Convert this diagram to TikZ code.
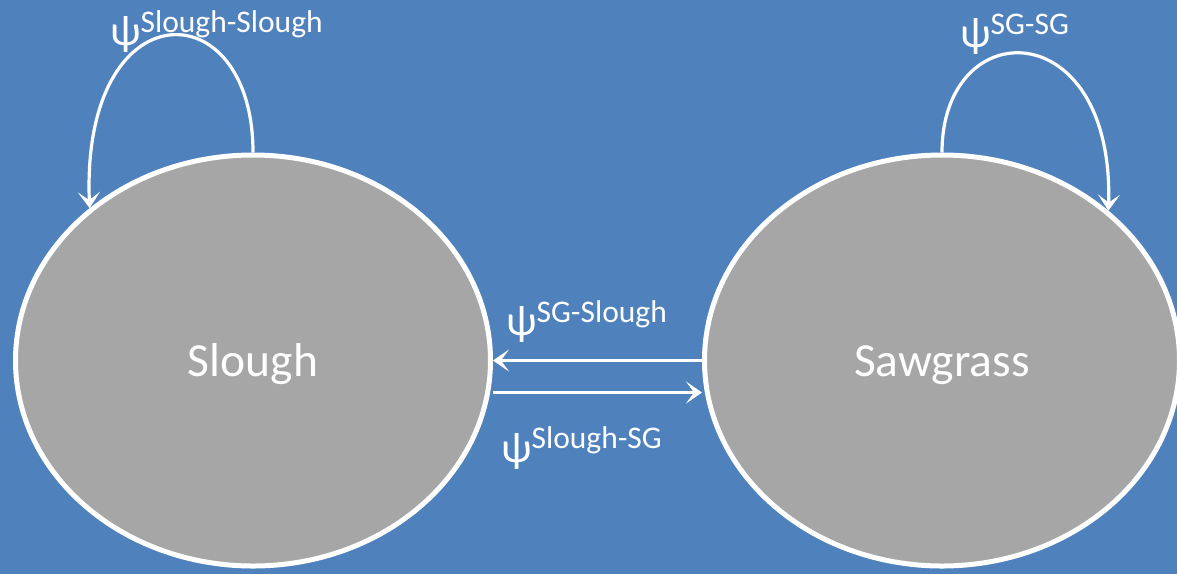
\documentclass[tikz,border=0pt]{standalone}
\usepackage{fontspec}
\setmainfont{Carlito}
\usetikzlibrary{arrows.meta,shapes.geometric}
\definecolor{bgblue}{RGB}{79,129,189}
\definecolor{stategray}{RGB}{166,166,166}
\begin{document}
\begin{tikzpicture}[x=1pt,y=-1pt,
  state/.style={shape=ellipse, draw=white, line width=5pt, fill=stategray,
    minimum width=475pt, minimum height=411pt, inner sep=0pt, text=white,
    font=\fontsize{47.5}{57}\selectfont, text height=31pt, text depth=0pt},
  flow/.style={draw=white, line width=3.2pt,
    -{Stealth[length=16pt,width=22pt,inset=8pt]}},
  lbl/.style={anchor=base west, inner sep=0pt, text=white,
    font=\fontsize{43}{50}\selectfont}]
\useasboundingbox (0,0) rectangle (1177,574);
\fill[bgblue] (0,0) rectangle (1177,574);
\node[state] (L) at (253,360.5) {Slough};
\node[state] (R) at (942,360.5) {Sawgrass};
\draw[flow] (L.north) .. controls (253,-12) and (81,-12) .. (L.137.6);
\draw[flow] (R.north) .. controls (942,12) and (1114,12) .. (R.42.4);
\draw[flow] (R.west) -- (L.east);
\draw[flow] ([yshift=-32pt]L.east) -- ([yshift=-32pt]L.east -| R.west);
\node[lbl] (lss) at (110,45) {ψ\raisebox{13pt}{\fontsize{31.5}{38}\selectfont Slough-Slough}};
\node[lbl] (lgg) at (960,47) {ψ\raisebox{13pt}{\fontsize{31.5}{38}\selectfont SG-SG}};
\node[lbl] (lgs) at (506,335) {ψ\raisebox{13pt}{\fontsize{31.5}{38}\selectfont SG-Slough}};
\node[lbl] (lsg) at (501,462) {ψ\raisebox{14pt}{\fontsize{31.5}{38}\selectfont Slough-SG}};
\end{tikzpicture}
\end{document}
